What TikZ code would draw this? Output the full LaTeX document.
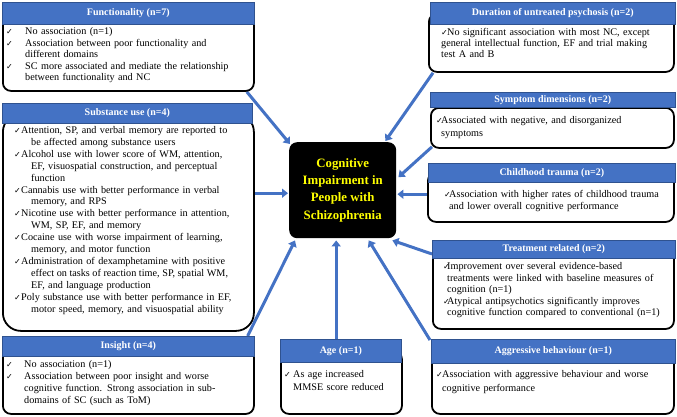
\documentclass[tikz,border=0pt]{standalone}
\usepackage{fontspec}
\setmainfont{Liberation Serif}
\newfontfamily\symf{DejaVu Sans}
\usetikzlibrary{arrows.meta,calc,backgrounds}
\definecolor{hblue}{HTML}{4472C4}
\definecolor{hedge}{HTML}{2F528F}
\definecolor{ytext}{HTML}{FFFF00}
\newcommand\chk{{\symf\fontsize{8}{8}\selectfont ✓}}
\newcommand\itm[3]{\noindent\hangindent=#2pt\hangafter=1\makebox[#1pt][l]{\chk}#3\par}
\tolerance=3000
\hyphenpenalty=5000
\begin{document}
\begin{tikzpicture}[x=1pt,y=-1pt,
  hdr/.style={draw=hedge, line width=0.6pt, fill=hblue, text=white,
    font=\bfseries\fontsize{10}{11}\selectfont, inner sep=0, anchor=north west},
  bodyb/.style={draw=black, line width=1.8pt, rounded corners=8pt, fill=white,
    anchor=north west, inner sep=0},
  txt/.style={inner sep=0, anchor=base west},
  conn/.style={draw=hblue, line width=3pt, -{Triangle[length=6pt,width=9pt]}},
]
\useasboundingbox (0,0) rectangle (677,416);
% ---------- left column ----------
\node[bodyb, minimum width=251, minimum height=78] (fb) at (2,12) {};
\node[hdr, minimum width=252, minimum height=22] (fh) at (2,2) {Functionality (n=7)};
\node[txt, text width=237, font=\fontsize{10.2}{11.5}\selectfont] (ft) at (6,34.5) {%
\itm{19}{19}{No association (n=1)}%
\itm{19}{19}{Association between poor functionality and\linebreak different domains}%
\itm{19}{19}{SC more associated and mediate the relationship\linebreak between functionality and NC}};

\node[bodyb, rounded corners=18pt, minimum width=251, minimum height=217] (subb) at (2,113) {};
\node[hdr, minimum width=250, minimum height=20] (subh) at (2,103) {Substance use (n=4)};
\node[txt, text width=219, font=\fontsize{10.2}{11.9}\selectfont] (subt) at (14,133.5) {%
\itm{7}{17}{Attention, SP, and verbal memory are reported to\linebreak be affected among substance users}%
\itm{7}{17}{Alcohol use with lower score of WM, attention,\linebreak EF, visuospatial construction, and perceptual\linebreak function}%
\itm{7}{17}{Cannabis use with better performance in verbal\linebreak memory, and RPS}%
\itm{7}{17}{Nicotine use with better performance in attention,\linebreak WM, SP, EF, and memory}%
\itm{7}{17}{Cocaine use with worse impairment of learning,\linebreak memory, and motor function}%
\itm{7}{17}{Administration of dexamphetamine with positive\linebreak {\spaceskip=1.8pt plus 3pt minus 0.5pt effect on tasks of reaction time, SP, spatial WM,}\linebreak EF, and language production}%
\itm{7}{17}{Poly substance use with better performance in EF,\linebreak motor speed, memory, and visuospatial ability}};

\node[bodyb, minimum width=251, minimum height=67] (ib) at (2,346) {};
\node[hdr, minimum width=252, minimum height=20] (ih) at (2,336) {Insight (n=4)};
\node[txt, text width=239, font=\fontsize{10.2}{12}\selectfont] (it) at (6,367.5) {%
\itm{18}{18}{No association (n=1)}%
\itm{18}{18}{Association between poor insight and worse\linebreak cognitive function. Strong association in sub-\linebreak{}domains of SC (such as ToM)}};

% ---------- age ----------
\node[bodyb, minimum width=121, minimum height=63] (agb) at (280,350) {};
\node[hdr, minimum width=121, minimum height=23] (agh) at (280,339) {Age (n=1)};
\node[txt, text width=112, align=left, font=\fontsize{10.2}{13}\selectfont] (agt) at (284,377.5) {%
\itm{9}{9}{As age increased\linebreak MMSE score reduced}};

% ---------- right column ----------
\node[bodyb, minimum width=245, minimum height=58] (db) at (428,13) {};
\node[hdr, minimum width=245, minimum height=22] (dh) at (430,2) {Duration of untreated psychosis (n=2)};
\node[txt, text width=222, font=\fontsize{10.2}{11}\selectfont] (dt) at (441,35.5) {%
\itm{6}{0}{No significant association with most NC, except\linebreak general intellectual function, EF and trial making\linebreak test A and B}};

\node[bodyb, minimum width=243, minimum height=40] (sb) at (430,107) {};
\node[hdr, minimum width=245, minimum height=15] (sh) at (430,92) {Symptom dimensions (n=2)};
\node[txt, text width=228, align=left, font=\fontsize{10.2}{13}\selectfont] (st) at (436,123.5) {%
\itm{5}{5}{Associated with negative, and disorganized\linebreak symptoms}};

\node[bodyb, minimum width=246, minimum height=49] (cb) at (427,172) {};
\node[hdr, minimum width=247, minimum height=19] (ch) at (428,163) {Childhood trauma (n=2)};
\node[txt, text width=224, align=left, font=\fontsize{10.2}{11.5}\selectfont] (ctt) at (444,197.5) {%
\itm{5}{5}{Association with higher rates of childhood trauma\linebreak and lower overall cognitive performance}};

\node[bodyb, minimum width=241, minimum height=79] (tb) at (432,249) {};
\node[hdr, minimum width=243, minimum height=18] (th) at (432,240) {Treatment related (n=2)};
\node[txt, text width=220, font=\fontsize{10.2}{11.5}\selectfont] (tt) at (443,269.5) {%
\itm{4}{4}{Improvement over several evidence-based\linebreak treatments were linked with baseline measures of\linebreak cognition (n=1)}%
\itm{4}{4}{Atypical antipsychotics significantly improves\linebreak cognitive function compared to conventional (n=1)}};

\node[bodyb, minimum width=242, minimum height=63] (ab) at (431,350) {};
\node[hdr, minimum width=244, minimum height=24] (ah) at (431,339) {Aggressive behaviour (n=1)};
\node[txt, text width=230, align=left, font=\fontsize{10.2}{13.5}\selectfont] (at) at (436,377.5) {%
\itm{6}{6}{Association with aggressive behaviour and worse\linebreak cognitive performance}};

% ---------- centre ----------
\node[fill=black, rounded corners=8pt, minimum width=107, minimum height=96, inner sep=0,
  anchor=north west, text=ytext, align=center,
  font=\bfseries\fontsize{12.8}{17.3}\selectfont] (c) at (289,142)
  {Cognitive\\Impairment in\\People with\\Schizophrenia};

% ---------- connectors ----------
\coordinate (ce) at ($(c.east)+(1,4)$);
\coordinate (cw) at ($(c.west)+(-1,3)$);
\coordinate (cs) at ($(c.south)+(-6.5,2)$);
\begin{scope}[on background layer]
\draw[conn] ($(fb.south east)+(-8,0)$) -- ($(c.north west)+(1,2)$);
\draw[conn] ($(db.south west)+(5,0)$) -- ($(c.north east)+(-11,-1)$);
\draw[conn] ($(sb.south west)+(2,-2)$) -- ($(c.east)+(2,-13)$);
\draw[conn] (cb.west |- ce) -- (ce);
\draw[conn] (subb.east |- cw) -- (cw);
\draw[conn] ($(th.north west)+(0,14)$) -- ($(c.south east)+(-4,2)$);
\draw[conn] ($(ah.north west)+(-1,1)$) -- ($(c.south)+(26,2)$);
\draw[conn] (agh.north -| cs) -- (cs);
\draw[conn] ($(ih.north east)+(-7,0)$) -- ($(c.south west)+(6,2)$);
\end{scope}
\end{tikzpicture}
\end{document}
